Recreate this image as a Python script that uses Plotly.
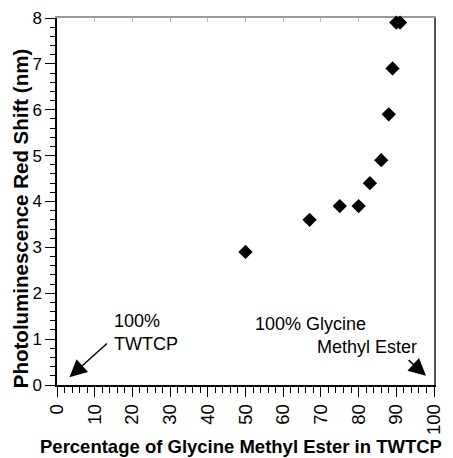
import plotly.graph_objects as go

# Data
pct_glycine = [0, 50, 67, 75, 80, 83, 86, 88, 89, 90, 91, 100]
red_shift_nm = [-0.15, 2.9, 3.6, 3.9, 3.9, 4.4, 4.9, 5.9, 6.9, 7.9, 7.9, -0.15]

x_ticks = [0, 10, 20, 30, 40, 50, 60, 70, 80, 90, 100]
y_ticks = [0, 1, 2, 3, 4, 5, 6, 7, 8]

FONT = "Arial, 'Liberation Sans', sans-serif"

fig = go.Figure()
fig.add_trace(go.Scatter(
    x=pct_glycine, y=red_shift_nm, mode="markers",
    marker=dict(symbol="diamond", size=11, color="black", line=dict(width=0)),
    cliponaxis=False, showlegend=False, hoverinfo="x+y",
))
# invisible trace to host the top/right frame axes
fig.add_trace(go.Scatter(
    x=pct_glycine, y=red_shift_nm, mode="markers", xaxis="x2", yaxis="y2",
    marker=dict(opacity=0), showlegend=False, hoverinfo="skip",
))

# page body has an 8px margin, so the figure is sized to fill the rest
fig.update_layout(
    width=445, height=450,
    margin=dict(l=49, r=19, t=10, b=73),
    paper_bgcolor="white", plot_bgcolor="white",
    font=dict(family=FONT, color="black", size=17),
    xaxis=dict(
        range=[0, 100], tickvals=x_ticks, ticktext=[str(v) for v in x_ticks],
        tickangle=-90, ticks="outside", ticklen=10, tickwidth=1, tickcolor="black",
        minor=dict(dtick=2, ticks="outside", ticklen=6, tickwidth=1, tickcolor="black"),
        showline=True, linecolor="black", linewidth=1.5, showgrid=False, zeroline=False,
        tickfont=dict(size=18.5), layer="below traces", automargin=False,
    ),
    yaxis=dict(
        range=[0, 8], tickvals=y_ticks, ticks="outside", ticklen=10, tickwidth=1,
        tickcolor="black",
        minor=dict(dtick=0.2, ticks="outside", ticklen=5, tickwidth=1, tickcolor="black"),
        showline=True, linecolor="black", linewidth=1.5, showgrid=False, zeroline=False,
        tickfont=dict(size=17), layer="below traces", automargin=False,
    ),
    xaxis2=dict(
        overlaying="x", side="top", range=[0, 100], dtick=10, ticks="inside",
        ticklen=4, tickcolor="#bbbbbb", showticklabels=False, showline=True,
        linecolor="#999999", linewidth=2, showgrid=False, zeroline=False,
        layer="below traces", automargin=False,
    ),
    yaxis2=dict(
        overlaying="y", side="right", range=[0, 8], ticks="", showticklabels=False,
        showline=True, linecolor="#555555", linewidth=2, showgrid=False,
        zeroline=False, layer="below traces", automargin=False,
    ),
)

# axis titles as text annotations (positioned like the reference)
fig.add_annotation(xref="paper", yref="paper", x=0.487, y=-0.168,
                   text="<b>Percentage of Glycine Methyl Ester in TWTCP</b>",
                   showarrow=False, xanchor="center", yanchor="middle",
                   font=dict(size=18.5))
fig.add_annotation(xref="paper", yref="paper", x=-0.098, y=0.452,
                   text="<b>Photoluminescence Red Shift (nm)</b>", textangle=-90,
                   showarrow=False, xanchor="center", yanchor="middle",
                   font=dict(size=20.5))

# arrows (no text)
fig.add_annotation(x=3.3, y=0.17, text="", showarrow=True, ax=39, ay=-35,
                   arrowhead=2, arrowsize=2.3, arrowwidth=1.5, arrowcolor="black")
fig.add_annotation(x=97.9, y=0.2, text="", showarrow=True, ax=-19, ay=-17,
                   arrowhead=2, arrowsize=2.3, arrowwidth=1.5, arrowcolor="black")

# labels
fig.add_annotation(x=14.5, y=1.14, text="100%<br>TWTCP", showarrow=False,
                   xanchor="left", yanchor="middle", align="left",
                   font=dict(size=18))
fig.add_annotation(x=52.0, y=1.33, text="100% Glycine", showarrow=False,
                   xanchor="left", yanchor="middle", font=dict(size=18))
fig.add_annotation(x=68.4, y=0.83, text="Methyl Ester", showarrow=False,
                   xanchor="left", yanchor="middle", font=dict(size=18))

fig.write_html("out.html")
